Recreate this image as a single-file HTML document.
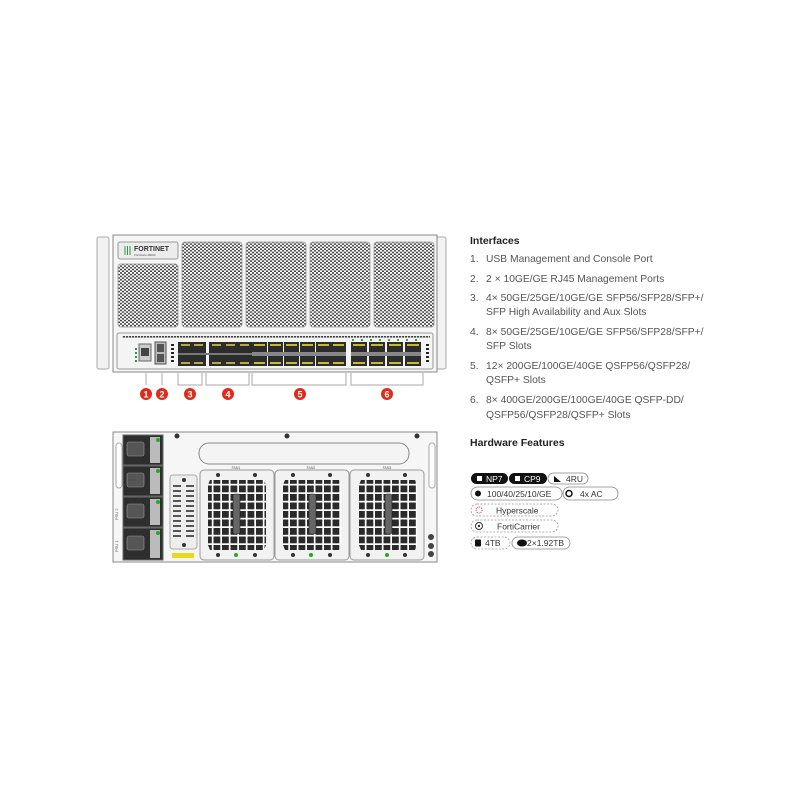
<!DOCTYPE html>
<html><head><meta charset="utf-8"><style>
html,body{margin:0;padding:0;background:#fff;}
svg{display:block;}
text{font-family:"Liberation Sans",sans-serif;}
</style></head><body>
<svg width="800" height="800" viewBox="0 0 800 800" xmlns="http://www.w3.org/2000/svg">
<defs>
<pattern id="perf" width="4" height="3.4" patternUnits="userSpaceOnUse">
<rect width="4" height="3.4" fill="#fff"/>
<circle cx="1" cy="1" r="1.0" fill="#333"/>
<circle cx="3" cy="2.7" r="1.0" fill="#333"/>
</pattern>
<pattern id="fan" width="8.5" height="8.5" patternUnits="userSpaceOnUse">
<rect width="8.5" height="8.5" fill="#fff"/>
<rect x="1" y="1" width="6.8" height="6.8" fill="#2a2a2a"/>
</pattern>
<pattern id="vent" width="3" height="3" patternUnits="userSpaceOnUse">
<rect width="2.2" height="1.6" fill="#444"/>
</pattern>
</defs>

<!-- FRONT -->
<rect x="97" y="237" width="12" height="132" rx="2" fill="#f2f2f2" stroke="#aaa"/>
<rect x="436" y="237" width="10" height="132" rx="2" fill="#f2f2f2" stroke="#aaa"/>
<rect x="113" y="235" width="324" height="137" fill="#f6f6f6" stroke="#888"/>
<rect x="118" y="242" width="60" height="17" rx="2" fill="#ececec" stroke="#999"/>
<g stroke="#2a9a3a" stroke-width="1"><line x1="125" y1="246" x2="125" y2="255"/><line x1="127.5" y1="246" x2="127.5" y2="255"/><line x1="130" y1="246" x2="130" y2="255"/></g>
<text x="134" y="251" font-size="7" font-weight="bold" fill="#333">FORTINET</text>
<text x="134" y="256" font-size="3" fill="#555">FortiGate 4800F</text>
<rect x="118" y="264" width="60" height="63" rx="3" fill="url(#perf)" stroke="#aaa"/>
<rect x="182" y="242" width="60" height="85" rx="3" fill="url(#perf)" stroke="#aaa"/>
<rect x="246" y="242" width="60" height="85" rx="3" fill="url(#perf)" stroke="#aaa"/>
<rect x="310" y="242" width="60" height="85" rx="3" fill="url(#perf)" stroke="#aaa"/>
<rect x="374" y="242" width="60" height="85" rx="3" fill="url(#perf)" stroke="#aaa"/>
<rect x="117" y="333" width="316" height="36" rx="2" fill="#f4f4f4" stroke="#999"/>
<rect x="122" y="335" width="308" height="3" fill="url(#vent)"/>
<g fill="#2a9a3a"><rect x="135" y="348" width="2" height="2"/><rect x="135" y="352" width="2" height="2"/><rect x="135" y="356" width="2" height="2"/><rect x="135" y="360" width="2" height="2"/></g>
<rect x="139" y="344" width="12" height="17" fill="#ccc" stroke="#666"/>
<rect x="141" y="348" width="8" height="8" fill="#444"/>
<rect x="155" y="342" width="11" height="22" fill="#bbb" stroke="#555"/>
<rect x="157" y="344" width="7" height="8" fill="#555"/><rect x="157" y="354" width="7" height="8" fill="#555"/>
<g fill="#222"><rect x="171" y="344" width="3" height="2"/><rect x="171" y="348" width="3" height="2"/><rect x="171" y="352" width="3" height="2"/><rect x="171" y="356" width="3" height="2"/><rect x="171" y="360" width="3" height="2"/></g>
<g>
<rect x="178" y="342" width="28" height="24" fill="#2c2c2c"/>
<rect x="209" y="342" width="56" height="24" fill="#2c2c2c"/>
<g fill="#b8a840">
<rect x="181" y="344" width="9" height="2"/><rect x="194" y="344" width="9" height="2"/><rect x="181" y="362" width="9" height="2"/><rect x="194" y="362" width="9" height="2"/>
<rect x="212" y="344" width="9" height="2"/><rect x="226" y="344" width="9" height="2"/><rect x="240" y="344" width="9" height="2"/><rect x="254" y="344" width="9" height="2"/>
<rect x="212" y="362" width="9" height="2"/><rect x="226" y="362" width="9" height="2"/><rect x="240" y="362" width="9" height="2"/><rect x="254" y="362" width="9" height="2"/>
</g>
<rect x="178" y="353" width="87" height="2" fill="#777"/>
</g>
<g fill="#2c2c2c">
<rect x="252" y="342" width="15" height="24"/><rect x="268" y="342" width="15" height="24"/>
<rect x="284" y="342" width="15" height="24"/><rect x="300" y="342" width="15" height="24"/>
<rect x="316" y="342" width="15" height="24"/><rect x="331" y="342" width="15" height="24"/>
<rect x="351" y="342" width="16" height="24"/><rect x="369" y="342" width="16" height="24"/>
<rect x="387" y="342" width="16" height="24"/><rect x="405" y="342" width="16" height="24"/>
</g>
<g fill="#c8b838">
<rect x="254" y="344" width="11" height="2"/><rect x="270" y="344" width="11" height="2"/><rect x="286" y="344" width="11" height="2"/><rect x="302" y="344" width="11" height="2"/><rect x="318" y="344" width="11" height="2"/><rect x="333" y="344" width="11" height="2"/>
<rect x="254" y="362" width="11" height="2"/><rect x="270" y="362" width="11" height="2"/><rect x="286" y="362" width="11" height="2"/><rect x="302" y="362" width="11" height="2"/><rect x="318" y="362" width="11" height="2"/><rect x="333" y="362" width="11" height="2"/>
<rect x="353" y="344" width="12" height="2"/><rect x="371" y="344" width="12" height="2"/><rect x="389" y="344" width="12" height="2"/><rect x="407" y="344" width="12" height="2"/>
<rect x="353" y="362" width="12" height="2"/><rect x="371" y="362" width="12" height="2"/><rect x="389" y="362" width="12" height="2"/><rect x="407" y="362" width="12" height="2"/>
</g>
<g fill="#888"><rect x="252" y="352" width="94" height="4"/><rect x="351" y="352" width="70" height="4"/></g>
<g fill="#3a3"><rect x="352" y="339" width="2" height="2"/><rect x="361" y="339" width="2" height="2"/><rect x="370" y="339" width="2" height="2"/><rect x="379" y="339" width="2" height="2"/><rect x="388" y="339" width="2" height="2"/><rect x="397" y="339" width="2" height="2"/><rect x="406" y="339" width="2" height="2"/><rect x="415" y="339" width="2" height="2"/></g>
<g fill="#222"><rect x="426" y="344" width="3" height="2"/><rect x="426" y="348" width="3" height="2"/><rect x="426" y="352" width="3" height="2"/><rect x="426" y="356" width="3" height="2"/><rect x="426" y="360" width="3" height="2"/></g>
<g stroke="#aaa" fill="none" stroke-width="1">
<line x1="146" y1="373" x2="146" y2="385"/><line x1="162" y1="373" x2="162" y2="385"/>
<polyline points="178,373 178,385 202,385 202,373"/>
<polyline points="206,373 206,385 249,385 249,373"/>
<polyline points="252,373 252,385 346,385 346,373"/>
<polyline points="351,373 351,385 423,385 423,373"/>
</g>
<g fill="#e02a1a"><circle cx="146" cy="394" r="6"/><circle cx="162" cy="394" r="6"/><circle cx="190" cy="394" r="6"/><circle cx="228" cy="394" r="6"/><circle cx="300" cy="394" r="6"/><circle cx="387" cy="394" r="6"/></g>
<g fill="#fff" font-size="9" font-weight="bold" text-anchor="middle"><text x="146" y="397.5">1</text><text x="162" y="397.5">2</text><text x="190" y="397.5">3</text><text x="228" y="397.5">4</text><text x="300" y="397.5">5</text><text x="387" y="397.5">6</text></g>

<!-- BACK -->
<rect x="113" y="432" width="324" height="130" fill="#f6f6f6" stroke="#888"/>
<rect x="116" y="443" width="6" height="45" rx="3" fill="#fff" stroke="#aaa"/>
<rect x="429" y="443" width="6" height="45" rx="3" fill="#fff" stroke="#aaa"/>
<g>
<rect x="123" y="435" width="40" height="30" fill="#2e2e2e" stroke="#666"/>
<rect x="123" y="466" width="40" height="30" fill="#2e2e2e" stroke="#666"/>
<rect x="123" y="497" width="40" height="30" fill="#2e2e2e" stroke="#666"/>
<rect x="123" y="528" width="40" height="32" fill="#2e2e2e" stroke="#666"/>
<g fill="#555" stroke="#999" stroke-width="0.6"><rect x="127" y="442" width="17" height="14" rx="2"/><rect x="127" y="473" width="17" height="14" rx="2"/><rect x="127" y="504" width="17" height="14" rx="2"/><rect x="127" y="536" width="17" height="14" rx="2"/></g>
<g fill="#bbb"><rect x="150" y="437" width="10" height="26"/><rect x="150" y="468" width="10" height="26"/><rect x="150" y="499" width="10" height="26"/><rect x="150" y="530" width="10" height="28"/></g>
<g fill="#2a2"><circle cx="158" cy="440" r="2"/><circle cx="158" cy="471" r="2"/><circle cx="158" cy="502" r="2"/><circle cx="158" cy="533" r="2"/></g>
</g>
<text x="118" y="520" font-size="4" fill="#555" transform="rotate(-90 118 520)">PSU 2</text>
<text x="118" y="552" font-size="4" fill="#555" transform="rotate(-90 118 552)">PSU 1</text>
<rect x="199" y="443" width="210" height="21" rx="10" fill="#f4f4f4" stroke="#888"/>
<g fill="#333"><circle cx="177" cy="436" r="2.5"/><circle cx="287" cy="436" r="2.5"/><circle cx="417" cy="436" r="2.5"/></g>
<rect x="170" y="475" width="27" height="74" rx="3" fill="#eee" stroke="#aaa"/>
<g fill="#555">
<rect x="173" y="485" width="8" height="2"/><rect x="186" y="485" width="8" height="2"/>
<rect x="173" y="490" width="8" height="2"/><rect x="186" y="490" width="8" height="2"/>
<rect x="173" y="495" width="8" height="2"/><rect x="186" y="495" width="8" height="2"/>
<rect x="173" y="500" width="8" height="2"/><rect x="186" y="500" width="8" height="2"/>
<rect x="173" y="505" width="8" height="2"/><rect x="186" y="505" width="8" height="2"/>
<rect x="173" y="510" width="8" height="2"/><rect x="186" y="510" width="8" height="2"/>
<rect x="173" y="515" width="8" height="2"/><rect x="186" y="515" width="8" height="2"/>
<rect x="173" y="520" width="8" height="2"/><rect x="186" y="520" width="8" height="2"/>
<rect x="173" y="525" width="8" height="2"/><rect x="186" y="525" width="8" height="2"/>
<rect x="173" y="530" width="8" height="2"/><rect x="186" y="530" width="8" height="2"/>
<rect x="173" y="535" width="8" height="2"/><rect x="186" y="535" width="8" height="2"/>
</g>
<circle cx="184" cy="480" r="2" fill="#333"/><circle cx="184" cy="545" r="2" fill="#333"/>
<rect x="172" y="553" width="22" height="5" fill="#e8d820"/>
<g>
<rect x="200" y="470" width="74" height="90" rx="4" fill="#f2f2f2" stroke="#999"/>
<rect x="275" y="470" width="74" height="90" rx="4" fill="#f2f2f2" stroke="#999"/>
<rect x="350" y="470" width="74" height="90" rx="4" fill="#f2f2f2" stroke="#999"/>
<polygon points="210,480 264,480 266,485 266,545 264,550 210,550 208,545 208,485" fill="url(#fan)"/>
<polygon points="285,480 339,480 341,485 341,545 339,550 285,550 283,545 283,485" fill="url(#fan)"/>
<polygon points="361,480 415,480 417,485 417,545 415,550 361,550 359,545 359,485" fill="url(#fan)"/>
<g fill="#666" stroke="#222" stroke-width="0.6"><rect x="233" y="494" width="7" height="40" rx="2"/><rect x="309" y="494" width="7" height="40" rx="2"/><rect x="385" y="494" width="7" height="40" rx="2"/></g>
<g fill="#333"><circle cx="218" cy="475" r="2"/><circle cx="255" cy="475" r="2"/><circle cx="293" cy="475" r="2"/><circle cx="330" cy="475" r="2"/><circle cx="368" cy="475" r="2"/><circle cx="405" cy="475" r="2"/>
<circle cx="218" cy="555" r="2"/><circle cx="255" cy="555" r="2"/><circle cx="293" cy="555" r="2"/><circle cx="330" cy="555" r="2"/><circle cx="368" cy="555" r="2"/><circle cx="405" cy="555" r="2"/></g>
<g fill="#2a2"><circle cx="236" cy="555" r="2"/><circle cx="311" cy="555" r="2"/><circle cx="387" cy="555" r="2"/></g>
<g font-size="3.5" fill="#555" text-anchor="middle"><text x="236" y="469">FAN1</text><text x="311" y="469">FAN2</text><text x="387" y="469">FAN3</text></g>
</g>
<g fill="#444"><circle cx="431" cy="537" r="3"/><circle cx="431" cy="546" r="3"/><circle cx="431" cy="554" r="3"/></g>

<!-- TEXT -->
<text x="470" y="244" font-size="10.5" font-weight="bold" fill="#222">Interfaces</text>
<g font-size="10.3" fill="#555">
<text x="470" y="262">1.</text><text x="486" y="262">USB Management and Console Port</text>
<text x="470" y="282">2.</text><text x="486" y="282">2 × 10GE/GE RJ45 Management Ports</text>
<text x="470" y="301">3.</text><text x="486" y="301">4× 50GE/25GE/10GE/GE SFP56/SFP28/SFP+/</text>
<text x="486" y="315">SFP High Availability and Aux Slots</text>
<text x="470" y="335">4.</text><text x="486" y="335">8× 50GE/25GE/10GE/GE SFP56/SFP28/SFP+/</text>
<text x="486" y="349">SFP Slots</text>
<text x="470" y="369">5.</text><text x="486" y="369">12× 200GE/100GE/40GE QSFP56/QSFP28/</text>
<text x="486" y="383">QSFP+ Slots</text>
<text x="470" y="403">6.</text><text x="486" y="403">8× 400GE/200GE/100GE/40GE QSFP-DD/</text>
<text x="486" y="418">QSFP56/QSFP28/QSFP+ Slots</text>
</g>
<text x="470" y="446" font-size="10.5" font-weight="bold" fill="#222">Hardware Features</text>

<g font-size="8.5" fill="#333">
<rect x="471" y="473" width="37" height="11" rx="5.5" fill="#111"/>
<rect x="477" y="476" width="5" height="5" fill="#fff"/><text x="486" y="482" fill="#fff">NP7</text>
<rect x="509" y="473" width="38" height="11" rx="5.5" fill="#111"/>
<rect x="515" y="476" width="5" height="5" fill="#fff"/><text x="524" y="482" fill="#fff">CP9</text>
<rect x="548" y="473" width="40" height="11" rx="5.5" fill="#fff" stroke="#888" stroke-width="0.8"/>
<polygon points="554,476 554,482 561,482" fill="#111"/><text x="566" y="482">4RU</text>

<rect x="471" y="487" width="91" height="13" rx="6.5" fill="#fff" stroke="#888" stroke-width="0.8"/>
<circle cx="478" cy="493.5" r="3" fill="#111"/><text x="487" y="497">100/40/25/10/GE</text>
<rect x="563" y="487" width="55" height="13" rx="6.5" fill="#fff" stroke="#888" stroke-width="0.8"/>
<circle cx="569" cy="493.5" r="3" fill="none" stroke="#111" stroke-width="1.5"/><text x="580" y="497">4x AC</text>

<rect x="471" y="504" width="87" height="12" rx="6" fill="#fff" stroke="#999" stroke-width="0.8" stroke-dasharray="2,1.5"/>
<circle cx="479" cy="510" r="3" fill="none" stroke="#d33" stroke-width="1" stroke-dasharray="1,1"/><text x="496" y="513.5">Hyperscale</text>
<rect x="471" y="520" width="87" height="12" rx="6" fill="#fff" stroke="#999" stroke-width="0.8" stroke-dasharray="2,1.5"/>
<circle cx="479" cy="526" r="3.5" fill="none" stroke="#333" stroke-width="1"/><circle cx="479" cy="526" r="1.2" fill="#333"/><text x="497" y="529.5">FortiCarrier</text>

<rect x="471" y="537" width="39" height="12" rx="6" fill="#fff" stroke="#999" stroke-width="0.8" stroke-dasharray="2,1.5"/>
<rect x="475" y="539.5" width="6" height="7" rx="1" fill="#111"/><text x="485" y="546">4TB</text>
<rect x="512" y="537" width="58" height="12" rx="6" fill="#fff" stroke="#888" stroke-width="0.8"/>
<ellipse cx="522" cy="543" rx="5" ry="3.5" fill="#111"/><text x="527" y="546">2×1.92TB</text>
</g>
</svg>
</body></html>
